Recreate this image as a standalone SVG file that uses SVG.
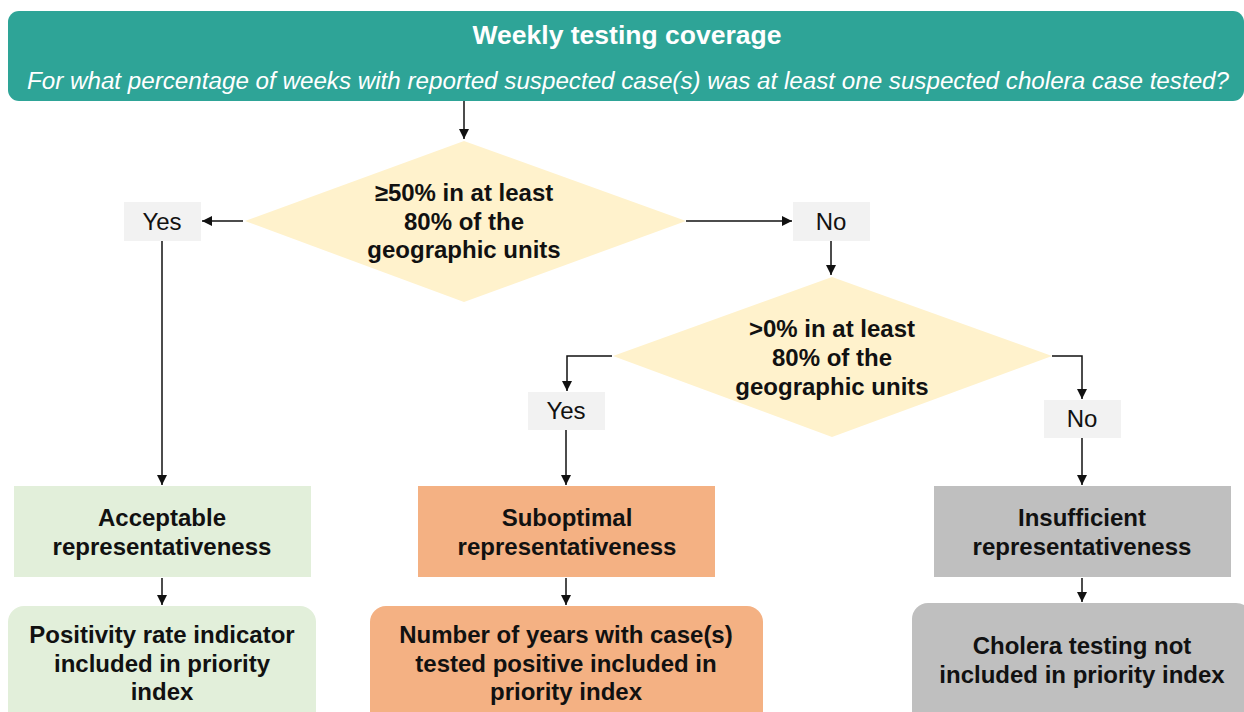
<svg xmlns="http://www.w3.org/2000/svg" width="1244" height="712" viewBox="0 0 1244 712">
<style>
text{font-family:"Liberation Sans",Arial,sans-serif;fill:#111;text-anchor:middle}
.b{font-weight:bold;font-size:24px}
.r{font-size:24px}
.lbl{fill:#F2F2F2}
.dia{fill:#FFF2CC}
.c{stroke:#111;stroke-width:1.5;fill:none;marker-end:url(#ah)}
</style>
<defs>
<marker id="ah" viewBox="0 0 10 10" refX="10" refY="5" markerWidth="10" markerHeight="10" markerUnits="userSpaceOnUse" orient="auto">
<path d="M0,0 L10,5 L0,10 z" fill="#111"/>
</marker>
</defs>
<g id="header">
<rect x="8" y="11" width="1236" height="90" rx="11" fill="#2EA497"/>
<text x="627" y="44" style="font-weight:bold;font-size:26.5px;fill:#fff">Weekly testing coverage</text>
<text x="628" y="89" style="font-style:italic;font-size:23.5px;fill:#fff" textLength="1202" lengthAdjust="spacingAndGlyphs">For what percentage of weeks with reported suspected case(s) was at least one suspected cholera case tested?</text>
</g>
<g id="decision1">
<polygon class="dia" points="464,141 686,221 464,302 245,221"/>
<text class="b" x="464" y="201">≥50% in at least</text>
<text class="b" x="464" y="230">80% of the</text>
<text class="b" x="464" y="258">geographic units</text>
</g>
<g id="yes1">
<rect class="lbl" x="124" y="202" width="77" height="39"/>
<text class="r" x="162" y="230">Yes</text>
</g>
<g id="no1">
<rect class="lbl" x="793" y="202" width="77" height="39"/>
<text class="r" x="831" y="230">No</text>
</g>
<g id="decision2">
<polygon class="dia" points="832,277 1052,356 832,437 613,356"/>
<text class="b" x="832" y="337">&gt;0% in at least</text>
<text class="b" x="832" y="366">80% of the</text>
<text class="b" x="832" y="395">geographic units</text>
</g>
<g id="yes2">
<rect class="lbl" x="528" y="392" width="77" height="38"/>
<text class="r" x="566" y="419">Yes</text>
</g>
<g id="no2">
<rect class="lbl" x="1044" y="400" width="77" height="38"/>
<text class="r" x="1082" y="427">No</text>
</g>
<g id="acceptable">
<rect x="14" y="486" width="297" height="91" fill="#E2EFDA"/>
<text class="b" x="162" y="526">Acceptable</text>
<text class="b" x="162" y="555">representativeness</text>
</g>
<g id="suboptimal">
<rect x="418" y="486" width="297" height="91" fill="#F4B183"/>
<text class="b" x="567" y="526">Suboptimal</text>
<text class="b" x="567" y="555">representativeness</text>
</g>
<g id="insufficient">
<rect x="934" y="486" width="297" height="91" fill="#BFBFBF"/>
<text class="b" x="1082" y="526">Insufficient</text>
<text class="b" x="1082" y="555">representativeness</text>
</g>
<g id="positivity">
<rect x="8" y="606" width="308" height="125" rx="16" fill="#E2EFDA"/>
<text class="b" x="162" y="643">Positivity rate indicator</text>
<text class="b" x="162" y="672">included in priority</text>
<text class="b" x="162" y="700">index</text>
</g>
<g id="years">
<rect x="370" y="606" width="393" height="125" rx="16" fill="#F4B183"/>
<text class="b" x="566" y="643">Number of years with case(s)</text>
<text class="b" x="566" y="672">tested positive included in</text>
<text class="b" x="566" y="700">priority index</text>
</g>
<g id="notincluded">
<rect x="912" y="603" width="340" height="128" rx="16" fill="#BFBFBF"/>
<text class="b" x="1082" y="654">Cholera testing not</text>
<text class="b" x="1082" y="683">included in priority index</text>
</g>
<g id="connectors">
<path class="c" d="M464,101 V139"/>
<path class="c" d="M243,221 H202"/>
<path class="c" d="M686,221 H792"/>
<path class="c" d="M831,241 V275"/>
<path class="c" d="M162,241 V485"/>
<path class="c" d="M612,356 H567 V391"/>
<path class="c" d="M1052,356 H1082 V399"/>
<path class="c" d="M566,430 V485"/>
<path class="c" d="M1082,438 V485"/>
<path class="c" d="M162,578 V605"/>
<path class="c" d="M566,578 V605"/>
<path class="c" d="M1082,578 V602"/>
</g>
</svg>
